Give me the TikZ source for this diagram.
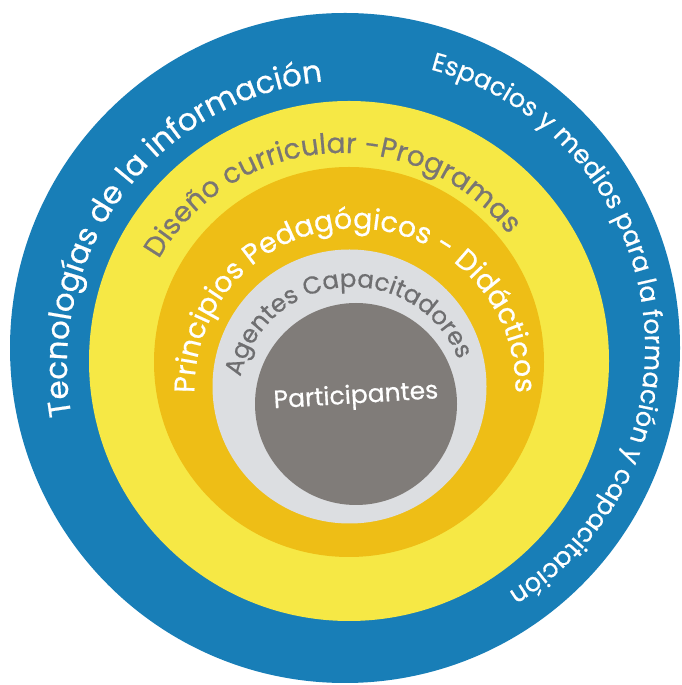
\documentclass[tikz,border=0pt]{standalone}
\usepackage{fontspec}
\setmainfont{Poppins}[FakeBold=0.6]
\usetikzlibrary{decorations.text}
\definecolor{ringblue}{HTML}{187EB7}
\definecolor{ringyellow}{HTML}{F6E845}
\definecolor{ringgold}{HTML}{EEBE16}
\definecolor{ringlight}{HTML}{DCDEE1}
\definecolor{ringdark}{HTML}{807C79}
\definecolor{txtgrey}{HTML}{7A7673}
\definecolor{txtdark}{HTML}{6E6E70}
\tikzset{
  ringtext/.style n args={3}{decorate, decoration={text along path, text align=center, text color=#1,
      text={|\fontsize{#2}{#2}\selectfont|#3}}}
}
\begin{document}
\begin{tikzpicture}[x=1pt,y=1pt]
\useasboundingbox (0,0) rectangle (681,685);
% rings
\fill[ringblue]   (345,337)   circle[radius=335pt];
\fill[ringyellow] (349,324)   circle[radius=260pt];
\fill[ringgold]   (349,323)   circle[radius=195pt];
\fill[ringlight]  (349.5,298.5) circle[radius=137pt];
\fill[ringdark]   (356,281)   circle[radius=101pt];
% text centres
\coordinate (cT) at (352,320);
\coordinate (cE) at (357.5,337.4);
\coordinate (cD) at (342,321);
\coordinate (cP) at (355,296);
\coordinate (cA) at (352,284);
% curved texts
\path[ringtext={white}{31}{Tecnologías de la información}]
  ([shift={(213:285pt)}]cT) arc[start angle=213, end angle=73, radius=285pt];
\path[ringtext={white}{25.5}{Espacios y medios para la formación y capacitación}]
  ([shift={(92:287.5pt)}]cE) arc[start angle=92, end angle=-75, radius=287.5pt];
\path[ringtext={txtgrey}{28}{Diseño curricular -Programas}]
  ([shift={(174:211pt)}]cD) arc[start angle=174, end angle=14, radius=211pt];
\path[ringtext={white}{28.5}{Principios Pedagógicos - Didácticos}]
  ([shift={(200:160.5pt)}]cP) arc[start angle=200, end angle=-20, radius=160.5pt];
\path[ringtext={txtdark}{24.5}{Agentes Capacitadores}]
  ([shift={(195:114pt)}]cA) arc[start angle=195, end angle=-6, radius=114pt];
% centre label
\node[text=white, font=\fontsize{25}{25}\selectfont, rotate=3.5] (part) at (356,288) {Participantes};
\end{tikzpicture}
\end{document}
